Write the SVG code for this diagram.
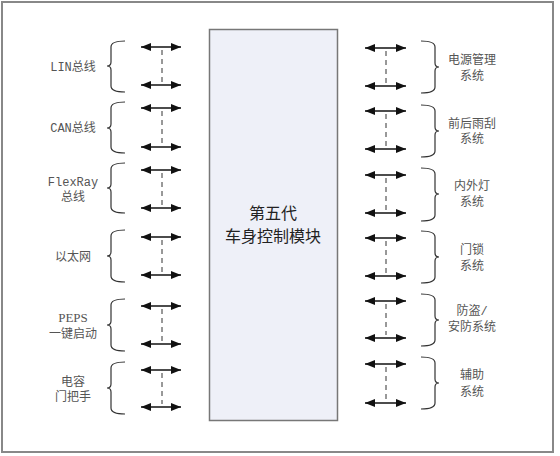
<svg xmlns="http://www.w3.org/2000/svg" width="560" height="456" viewBox="0 0 560 456">
<style>
.lbl{font-family:"Liberation Mono","Noto Sans CJK SC",monospace;font-size:12px;fill:#555;text-anchor:middle}
.ser{font-family:"Liberation Serif","Noto Sans CJK SC",serif;font-size:13px}
.main{font-family:"Noto Sans CJK SC",sans-serif;font-size:16px;fill:#222;text-anchor:middle}
.br{fill:none;stroke:#333;stroke-width:1.2}
.ar{stroke:#111;stroke-width:1.5;marker-start:url(#ah);marker-end:url(#ah)}
.ds{stroke:#333;stroke-width:1;stroke-dasharray:5,4}
</style>
<defs>
<marker id="ah" markerUnits="userSpaceOnUse" markerWidth="10" markerHeight="8" refX="10" refY="4" orient="auto-start-reverse">
<path d="M0,0 L10,4 L0,8 z" fill="#111"/>
</marker>
</defs>
<rect x="2" y="2" width="551" height="450" fill="#fff" stroke="#888" stroke-width="2"/>
<g id="core">
<rect x="209.5" y="29.5" width="128" height="391" fill="#eef0f8" stroke="#777" stroke-width="1.5"/>
<text class="main" x="273" y="219">第五代</text>
<text class="main" x="273" y="242">车身控制模块</text>
</g>
<g id="left-lin">
<path class="br" d="M125,41 Q111,41 111,47 L111,62 Q111,66 107,66 Q111,66 111,70 L111,86 Q111,92 125,92"/>
<text class="lbl" x="73" y="71">LIN总线</text>
</g>
<g id="left-can">
<path class="br" d="M125,102 Q111,102 111,108 L111,124 Q111,128 107,128 Q111,128 111,132 L111,147 Q111,153 125,153"/>
<text class="lbl" x="73" y="132">CAN总线</text>
</g>
<g id="left-flexray">
<path class="br" d="M125,163 Q111,163 111,169 L111,184 Q111,188 107,188 Q111,188 111,192 L111,207 Q111,213 125,213"/>
<text class="lbl" x="73" y="186">FlexRay</text>
<text class="lbl" x="73" y="201">总线</text>
</g>
<g id="left-eth">
<path class="br" d="M125,230 Q111,230 111,236 L111,252 Q111,256 107,256 Q111,256 111,260 L111,276 Q111,282 125,282"/>
<text class="lbl" x="73" y="261">以太网</text>
</g>
<g id="left-peps">
<path class="br" d="M125,299 Q111,299 111,305 L111,321 Q111,325 107,325 Q111,325 111,329 L111,345 Q111,351 125,351"/>
<text class="lbl ser" x="73" y="322">PEPS</text>
<text class="lbl" x="73" y="338">一键启动</text>
</g>
<g id="left-handle">
<path class="br" d="M125,362 Q111,362 111,368 L111,384 Q111,388 107,388 Q111,388 111,392 L111,408 Q111,414 125,414"/>
<text class="lbl" x="73" y="386">电容</text>
<text class="lbl" x="73" y="401">门把手</text>
</g>
<g id="right-power">
<path class="br" d="M421,41 Q435,41 435,47 L435,63 Q435,67 439,67 Q435,67 435,71 L435,87 Q435,93 421,93"/>
<text class="lbl" x="472" y="64">电源管理</text>
<text class="lbl" x="472" y="80">系统</text>
</g>
<g id="right-wiper">
<path class="br" d="M421,105 Q435,105 435,111 L435,127 Q435,131 439,131 Q435,131 435,135 L435,151 Q435,157 421,157"/>
<text class="lbl" x="472" y="128">前后雨刮</text>
<text class="lbl" x="472" y="143">系统</text>
</g>
<g id="right-light">
<path class="br" d="M421,168 Q435,168 435,174 L435,190 Q435,194 439,194 Q435,194 435,198 L435,215 Q435,221 421,221"/>
<text class="lbl" x="472" y="190">内外灯</text>
<text class="lbl" x="472" y="206">系统</text>
</g>
<g id="right-lock">
<path class="br" d="M421,231 Q435,231 435,237 L435,253 Q435,257 439,257 Q435,257 435,261 L435,277 Q435,283 421,283"/>
<text class="lbl" x="472" y="254">门锁</text>
<text class="lbl" x="472" y="270">系统</text>
</g>
<g id="right-theft">
<path class="br" d="M421,294 Q435,294 435,300 L435,316 Q435,320 439,320 Q435,320 435,324 L435,340 Q435,346 421,346"/>
<text class="lbl" x="472" y="315">防盗/</text>
<text class="lbl" x="472" y="331">安防系统</text>
</g>
<g id="right-aux">
<path class="br" d="M421,357 Q435,357 435,363 L435,379 Q435,383 439,383 Q435,383 435,387 L435,403 Q435,409 421,409"/>
<text class="lbl" x="472" y="379">辅助</text>
<text class="lbl" x="472" y="396">系统</text>
</g>
<g id="connectors">
<line class="ar" x1="141" y1="47" x2="181" y2="47"/><line class="ar" x1="141" y1="85" x2="181" y2="85"/><line class="ds" x1="162" y1="50" x2="162" y2="82"/>
<line class="ar" x1="141" y1="108" x2="181" y2="108"/><line class="ar" x1="141" y1="147" x2="181" y2="147"/><line class="ds" x1="162" y1="111" x2="162" y2="144"/>
<line class="ar" x1="141" y1="170" x2="181" y2="170"/><line class="ar" x1="141" y1="208" x2="181" y2="208"/><line class="ds" x1="162" y1="173" x2="162" y2="205"/>
<line class="ar" x1="141" y1="237" x2="181" y2="237"/><line class="ar" x1="141" y1="275" x2="181" y2="275"/><line class="ds" x1="162" y1="240" x2="162" y2="272"/>
<line class="ar" x1="141" y1="306" x2="181" y2="306"/><line class="ar" x1="141" y1="344" x2="181" y2="344"/><line class="ds" x1="162" y1="309" x2="162" y2="341"/>
<line class="ar" x1="141" y1="370" x2="181" y2="370"/><line class="ar" x1="141" y1="407" x2="181" y2="407"/><line class="ds" x1="162" y1="373" x2="162" y2="404"/>
<line class="ar" x1="365" y1="48" x2="406" y2="48"/><line class="ar" x1="365" y1="86" x2="406" y2="86"/><line class="ds" x1="386" y1="51" x2="386" y2="83"/>
<line class="ar" x1="365" y1="111" x2="406" y2="111"/><line class="ar" x1="365" y1="149" x2="406" y2="149"/><line class="ds" x1="386" y1="114" x2="386" y2="146"/>
<line class="ar" x1="365" y1="175" x2="406" y2="175"/><line class="ar" x1="365" y1="213" x2="406" y2="213"/><line class="ds" x1="386" y1="178" x2="386" y2="210"/>
<line class="ar" x1="365" y1="238" x2="406" y2="238"/><line class="ar" x1="365" y1="276" x2="406" y2="276"/><line class="ds" x1="386" y1="241" x2="386" y2="273"/>
<line class="ar" x1="365" y1="301" x2="406" y2="301"/><line class="ar" x1="365" y1="338" x2="406" y2="338"/><line class="ds" x1="386" y1="304" x2="386" y2="335"/>
<line class="ar" x1="365" y1="364" x2="406" y2="364"/><line class="ar" x1="365" y1="403" x2="406" y2="403"/><line class="ds" x1="386" y1="367" x2="386" y2="400"/>
</g>
</svg>
